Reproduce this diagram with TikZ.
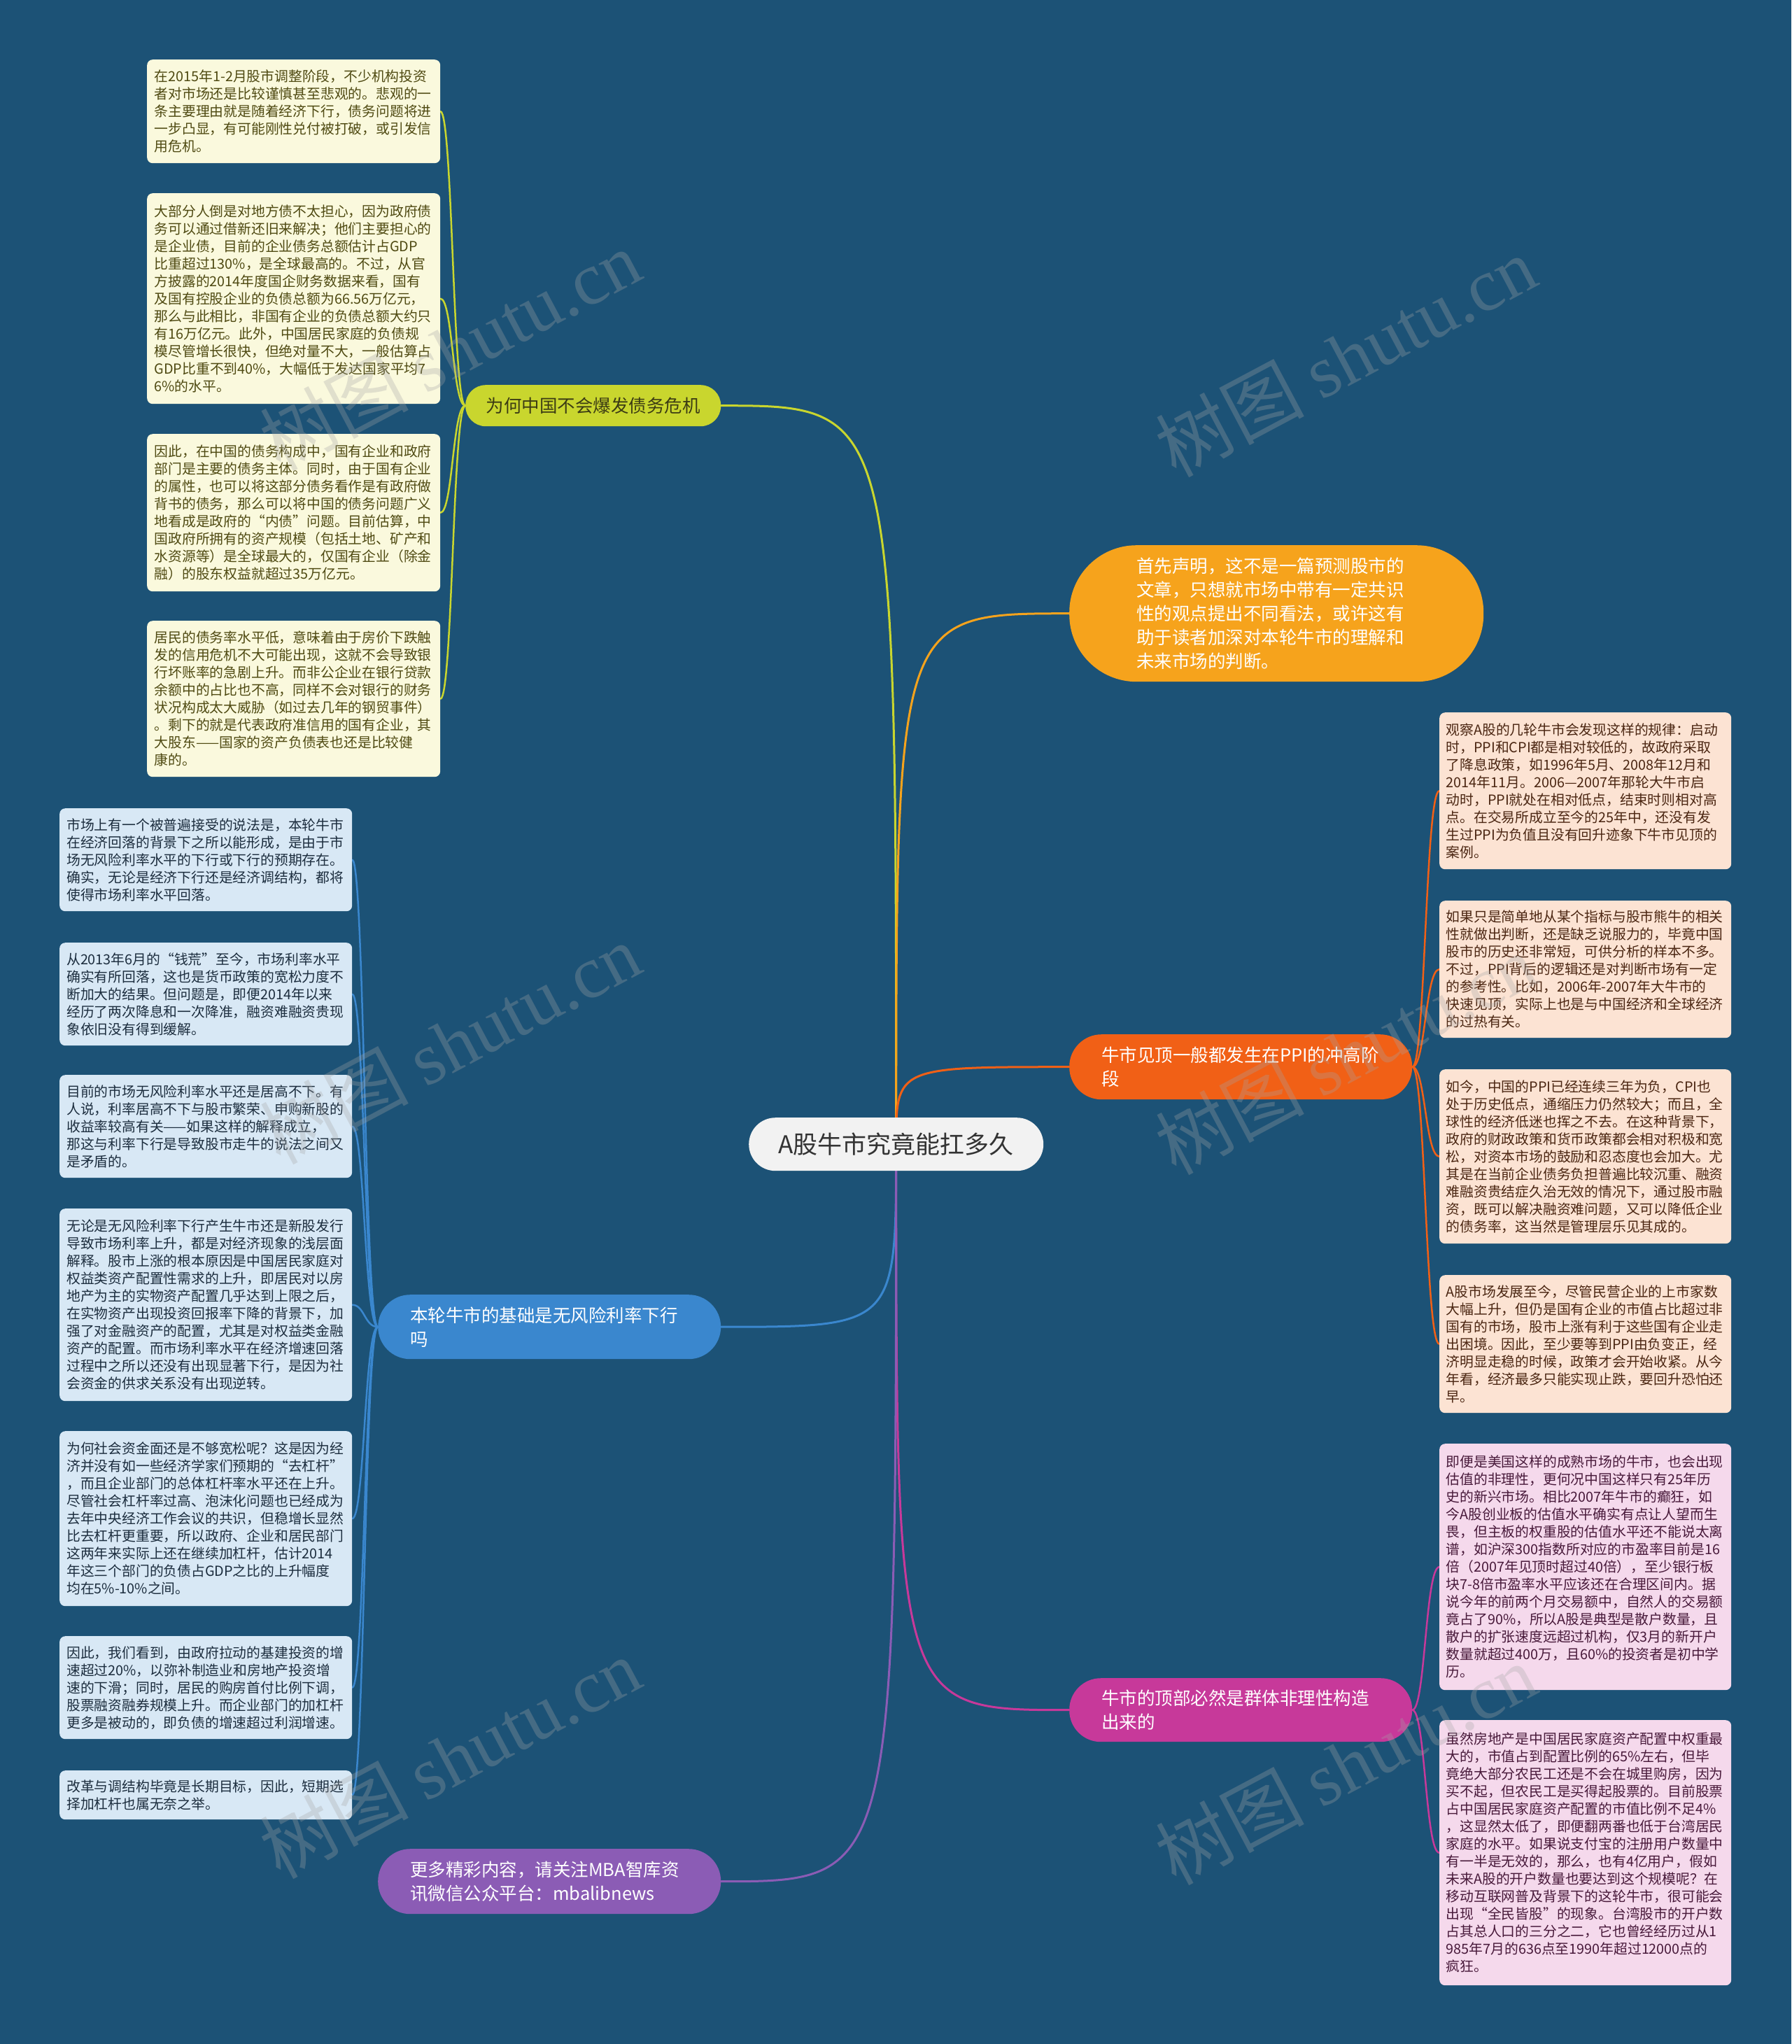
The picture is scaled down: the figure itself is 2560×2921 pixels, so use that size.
\documentclass[tikz,border=0pt]{standalone}
\usepackage{fontspec}
\setmainfont{Noto Sans CJK SC}
\newfontfamily\wmserif{Liberation Serif}
\usetikzlibrary{calc}
\definecolor{bgc}{RGB}{28,82,118}
\definecolor{yfill}{RGB}{250,249,221}
\definecolor{ytext}{RGB}{79,74,18}
\definecolor{bfill}{RGB}{216,232,245}
\definecolor{btext}{RGB}{28,45,62}
\definecolor{ofill}{RGB}{252,227,211}
\definecolor{otext}{RGB}{75,38,18}
\definecolor{pfill}{RGB}{245,217,236}
\definecolor{ptext}{RGB}{72,25,58}
\definecolor{cyel}{RGB}{201,214,46}
\definecolor{cora}{RGB}{246,163,28}
\definecolor{cred}{RGB}{241,96,22}
\definecolor{cblu}{RGB}{58,135,206}
\definecolor{cmag}{RGB}{199,57,154}
\definecolor{cpur}{RGB}{139,92,181}
\definecolor{cfill}{RGB}{242,242,242}
\definecolor{ctext}{RGB}{51,51,51}
\definecolor{ybtext}{RGB}{60,60,20}
\definecolor{wmgray}{RGB}{165,165,165}
\pgfdeclarelayer{bglayer}
\pgfdeclarelayer{lineslayer}
\pgfsetlayers{bglayer,lineslayer,main}
\tikzset{
 leaf/.style={anchor=north west, rounded corners=8pt, inner ysep=0pt, text width=398pt, align=left, font=\fontsize{19.8pt}{25pt}\selectfont},
 yleaf/.style={leaf, fill=yfill, text=ytext, inner xsep=10.5pt},
 bleaf/.style={leaf, fill=bfill, text=btext, inner xsep=10pt},
 oleaf/.style={leaf, fill=ofill, text=otext, inner xsep=9.5pt},
 pleaf/.style={leaf, fill=pfill, text=ptext, inner xsep=9.5pt},
 branch/.style={anchor=north west, inner ysep=0pt, align=left, text width=398pt, inner xsep=46pt, font=\fontsize{25.5pt}{34pt}\selectfont, text=white},
 conn/.style={line width=3pt, line cap=round},
 brk/.style={line width=2.5pt, line cap=round},
 wm/.style={text=wmgray, opacity=0.3, font=\fontsize{106pt}{106pt}\selectfont, rotate=28}
}
\begin{document}
\begin{tikzpicture}[x=1pt,y=-1pt]
\useasboundingbox (0,0) rectangle (2560,2921);
\begin{pgfonlayer}{bglayer}
\fill[bgc] (0,0) rectangle (2560,2921);
\end{pgfonlayer}

% central node
\node[anchor=north west, fill=cfill, text=ctext, rounded corners=38pt, minimum width=421pt, minimum height=76pt, inner sep=0pt, font=\fontsize{35pt}{40pt}\selectfont] (C) at (1070,1597) {A股牛市究竟能扛多久};

% branch nodes
\node[anchor=north west, fill=cyel, text=ybtext, rounded corners=29pt, minimum width=365pt, minimum height=59pt, inner sep=0pt, font=\fontsize{25.5pt}{34pt}\selectfont] (YB) at (665,550) {为何中国不会爆发债务危机};
\node[branch, fill=cora, rounded corners=96pt, inner xsep=96pt, text width=400pt, minimum height=195pt] (OB) at (1528,779) {首先声明，这不是一篇预测股市的\\文章，只想就市场中带有一定共识\\性的观点提出不同看法，或许这有\\助于读者加深对本轮牛市的理解和\\未来市场的判断。};
\node[branch, fill=cred, rounded corners=46pt, minimum height=93pt] (RB) at (1528,1478) {牛市见顶一般都发生在PPI的冲高阶\\段};
\node[branch, fill=cblu, rounded corners=46pt, minimum height=92pt] (BB) at (540,1850) {本轮牛市的基础是无风险利率下行\\吗};
\node[branch, fill=cmag, rounded corners=45pt, minimum height=91pt] (MB) at (1528,2398) {牛市的顶部必然是群体非理性构造\\出来的};
\node[branch, fill=cpur, rounded corners=46pt, minimum height=93pt] (PB) at (540,2642) {更多精彩内容，请关注MBA智库资\\讯微信公众平台：mbalibnews};

% yellow leaves
\node[yleaf, minimum height=148pt] (Y1) at (210,85) {在2015年1-2月股市调整阶段，不少机构投资\\者对市场还是比较谨慎甚至悲观的。悲观的一\\条主要理由就是随着经济下行，债务问题将进\\一步凸显，有可能刚性兑付被打破，或引发信\\用危机。};
\node[yleaf, minimum height=301pt] (Y2) at (210,276) {大部分人倒是对地方债不太担心，因为政府债\\务可以通过借新还旧来解决；他们主要担心的\\是企业债，目前的企业债务总额估计占GDP\\比重超过130\%，是全球最高的。不过，从官\\方披露的2014年度国企财务数据来看，国有\\及国有控股企业的负债总额为66.56万亿元，\\那么与此相比，非国有企业的负债总额大约只\\有16万亿元。此外，中国居民家庭的负债规\\模尽管增长很快，但绝对量不大，一般估算占\\GDP比重不到40\%，大幅低于发达国家平均7\\6\%的水平。};
\node[yleaf, minimum height=225pt] (Y3) at (210,620) {因此，在中国的债务构成中，国有企业和政府\\部门是主要的债务主体。同时，由于国有企业\\的属性，也可以将这部分债务看作是有政府做\\背书的债务，那么可以将中国的债务问题广义\\地看成是政府的“内债”问题。目前估算，中\\国政府所拥有的资产规模（包括土地、矿产和\\水资源等）是全球最大的，仅国有企业（除金\\融）的股东权益就超过35万亿元。};
\node[yleaf, minimum height=223pt] (Y4) at (210,887) {居民的债务率水平低，意味着由于房价下跌触\\发的信用危机不大可能出现，这就不会导致银\\行坏账率的急剧上升。而非公企业在银行贷款\\余额中的占比也不高，同样不会对银行的财务\\状况构成太大威胁（如过去几年的钢贸事件）\\。剩下的就是代表政府准信用的国有企业，其\\大股东——国家的资产负债表也还是比较健\\康的。};

% blue leaves
\node[bleaf, minimum height=147pt] (B1) at (85,1155) {市场上有一个被普遍接受的说法是，本轮牛市\\在经济回落的背景下之所以能形成，是由于市\\场无风险利率水平的下行或下行的预期存在。\\确实，无论是经济下行还是经济调结构，都将\\使得市场利率水平回落。};
\node[bleaf, minimum height=147pt] (B2) at (85,1347) {从2013年6月的“钱荒”至今，市场利率水平\\确实有所回落，这也是货币政策的宽松力度不\\断加大的结果。但问题是，即便2014年以来\\经历了两次降息和一次降准，融资难融资贵现\\象依旧没有得到缓解。};
\node[bleaf, minimum height=147pt] (B3) at (85,1536) {目前的市场无风险利率水平还是居高不下。有\\人说，利率居高不下与股市繁荣、申购新股的\\收益率较高有关——如果这样的解释成立，\\那这与利率下行是导致股市走牛的说法之间又\\是矛盾的。};
\node[bleaf, minimum height=275pt] (B4) at (85,1727) {无论是无风险利率下行产生牛市还是新股发行\\导致市场利率上升，都是对经济现象的浅层面\\解释。股市上涨的根本原因是中国居民家庭对\\权益类资产配置性需求的上升，即居民对以房\\地产为主的实物资产配置几乎达到上限之后，\\在实物资产出现投资回报率下降的背景下，加\\强了对金融资产的配置，尤其是对权益类金融\\资产的配置。而市场利率水平在经济增速回落\\过程中之所以还没有出现显著下行，是因为社\\会资金的供求关系没有出现逆转。};
\node[bleaf, minimum height=250pt] (B5) at (85,2045) {为何社会资金面还是不够宽松呢？这是因为经\\济并没有如一些经济学家们预期的“去杠杆”\\，而且企业部门的总体杠杆率水平还在上升。\\尽管社会杠杆率过高、泡沫化问题也已经成为\\去年中央经济工作会议的共识，但稳增长显然\\比去杠杆更重要，所以政府、企业和居民部门\\这两年来实际上还在继续加杠杆，估计2014\\年这三个部门的负债占GDP之比的上升幅度\\均在5\%-10\%之间。};
\node[bleaf, minimum height=147pt] (B6) at (85,2338) {因此，我们看到，由政府拉动的基建投资的增\\速超过20\%，以弥补制造业和房地产投资增\\速的下滑；同时，居民的购房首付比例下调，\\股票融资融券规模上升。而企业部门的加杠杆\\更多是被动的，即负债的增速超过利润增速。};
\node[bleaf, minimum height=70pt] (B7) at (85,2530) {改革与调结构毕竟是长期目标，因此，短期选\\择加杠杆也属无奈之举。};

% orange leaves
\node[oleaf, minimum height=224pt] (O1) at (2057,1018) {观察A股的几轮牛市会发现这样的规律：启动\\时，PPI和CPI都是相对较低的，故政府采取\\了降息政策，如1996年5月、2008年12月和\\2014年11月。2006—2007年那轮大牛市启\\动时，PPI就处在相对低点，结束时则相对高\\点。在交易所成立至今的25年中，还没有发\\生过PPI为负值且没有回升迹象下牛市见顶的\\案例。};
\node[oleaf, minimum height=196pt] (O2) at (2057,1287) {如果只是简单地从某个指标与股市熊牛的相关\\性就做出判断，还是缺乏说服力的，毕竟中国\\股市的历史还非常短，可供分析的样本不多。\\不过，PPI背后的逻辑还是对判断市场有一定\\的参考性。比如，2006年-2007年大牛市的\\快速见顶，实际上也是与中国经济和全球经济\\的过热有关。};
\node[oleaf, minimum height=249pt] (O3) at (2057,1528) {如今，中国的PPI已经连续三年为负，CPI也\\处于历史低点，通缩压力仍然较大；而且，全\\球性的经济低迷也挥之不去。在这种背景下，\\政府的财政政策和货币政策都会相对积极和宽\\松，对资本市场的鼓励和忍态度也会加大。尤\\其是在当前企业债务负担普遍比较沉重、融资\\难融资贵结症久治无效的情况下，通过股市融\\资，既可以解决融资难问题，又可以降低企业\\的债务率，这当然是管理层乐见其成的。};
\node[oleaf, minimum height=197pt] (O4) at (2057,1822) {A股市场发展至今，尽管民营企业的上市家数\\大幅上升，但仍是国有企业的市值占比超过非\\国有的市场，股市上涨有利于这些国有企业走\\出困境。因此，至少要等到PPI由负变正，经\\济明显走稳的时候，政策才会开始收紧。从今\\年看，经济最多只能实现止跌，要回升恐怕还\\早。};

% pink leaves
\node[pleaf, minimum height=352pt] (P1) at (2057,2063) {即便是美国这样的成熟市场的牛市，也会出现\\估值的非理性，更何况中国这样只有25年历\\史的新兴市场。相比2007年牛市的癫狂，如\\今A股创业板的估值水平确实有点让人望而生\\畏，但主板的权重股的估值水平还不能说太离\\谱，如沪深300指数所对应的市盈率目前是16\\倍（2007年见顶时超过40倍），至少银行板\\块7-8倍市盈率水平应该还在合理区间内。据\\说今年的前两个月交易额中，自然人的交易额\\竟占了90\%，所以A股是典型是散户数量，且\\散户的扩张速度远超过机构，仅3月的新开户\\数量就超过400万，且60\%的投资者是初中学\\历。};
\node[pleaf, minimum height=379pt] (P2) at (2057,2458) {虽然房地产是中国居民家庭资产配置中权重最\\大的，市值占到配置比例的65\%左右，但毕\\竟绝大部分农民工还是不会在城里购房，因为\\买不起，但农民工是买得起股票的。目前股票\\占中国居民家庭资产配置的市值比例不足4\%\\，这显然太低了，即便翻两番也低于台湾居民\\家庭的水平。如果说支付宝的注册用户数量中\\有一半是无效的，那么，也有4亿用户，假如\\未来A股的开户数量也要达到这个规模呢？在\\移动互联网普及背景下的这轮牛市，很可能会\\出现“全民皆股”的现象。台湾股市的开户数\\占其总人口的三分之二，它也曾经经历过从1\\985年7月的636点至1990年超过12000点的\\疯狂。};

% bracket coordinates
\coordinate (ybx) at (647,0);
\coordinate (bbx) at (521,0);
\coordinate (rbx) at (2037,0);
\coordinate (mbx) at (2037,0);

\begin{pgfonlayer}{lineslayer}
% main connectors
\draw[conn, cyel] (C.center) .. controls (C.center |- YB.east) .. (YB.east);
\draw[conn, cora] (C.center) .. controls (C.center |- OB.west) .. (OB.west);
\draw[conn, cred] (C.center) .. controls (C.center |- RB.west) .. (RB.west);
\draw[conn, cblu] (C.center) .. controls (C.center |- BB.east) .. (BB.east);
\draw[conn, cmag] (C.center) .. controls (C.center |- MB.west) .. (MB.west);
\draw[conn, cpur] (C.center) .. controls (C.center |- PB.east) .. (PB.east);
% brackets
\foreach \n in {Y1,Y2,Y3,Y4}
  \draw[brk, cyel] (YB.west) .. controls (ybx |- YB.west) and (ybx |- \n.east) .. (\n.east);
\foreach \n in {B1,B2,B3,B4,B5,B6,B7}
  \draw[brk, cblu] (BB.west) .. controls (bbx |- BB.west) and (bbx |- \n.east) .. (\n.east);
\foreach \n in {O1,O2,O3,O4}
  \draw[brk, cred] (RB.east) .. controls (rbx |- RB.east) and (rbx |- \n.west) .. (\n.west);
\foreach \n in {P1,P2}
  \draw[brk, cmag] (MB.east) .. controls (mbx |- MB.east) and (mbx |- \n.west) .. (\n.west);
\end{pgfonlayer}

% watermarks
\node[wm] (w1) at (643,500) {树图 {\wmserif shutu.cn}};
\node[wm] (w2) at (643,1491) {树图 {\wmserif shutu.cn}};
\node[wm] (w3) at (643,2512) {树图 {\wmserif shutu.cn}};
\node[wm] (w4) at (1923,509) {树图 {\wmserif shutu.cn}};
\node[wm] (w5) at (1923,1506) {树图 {\wmserif shutu.cn}};
\node[wm] (w6) at (1923,2521) {树图 {\wmserif shutu.cn}};
\end{tikzpicture}
\end{document}
